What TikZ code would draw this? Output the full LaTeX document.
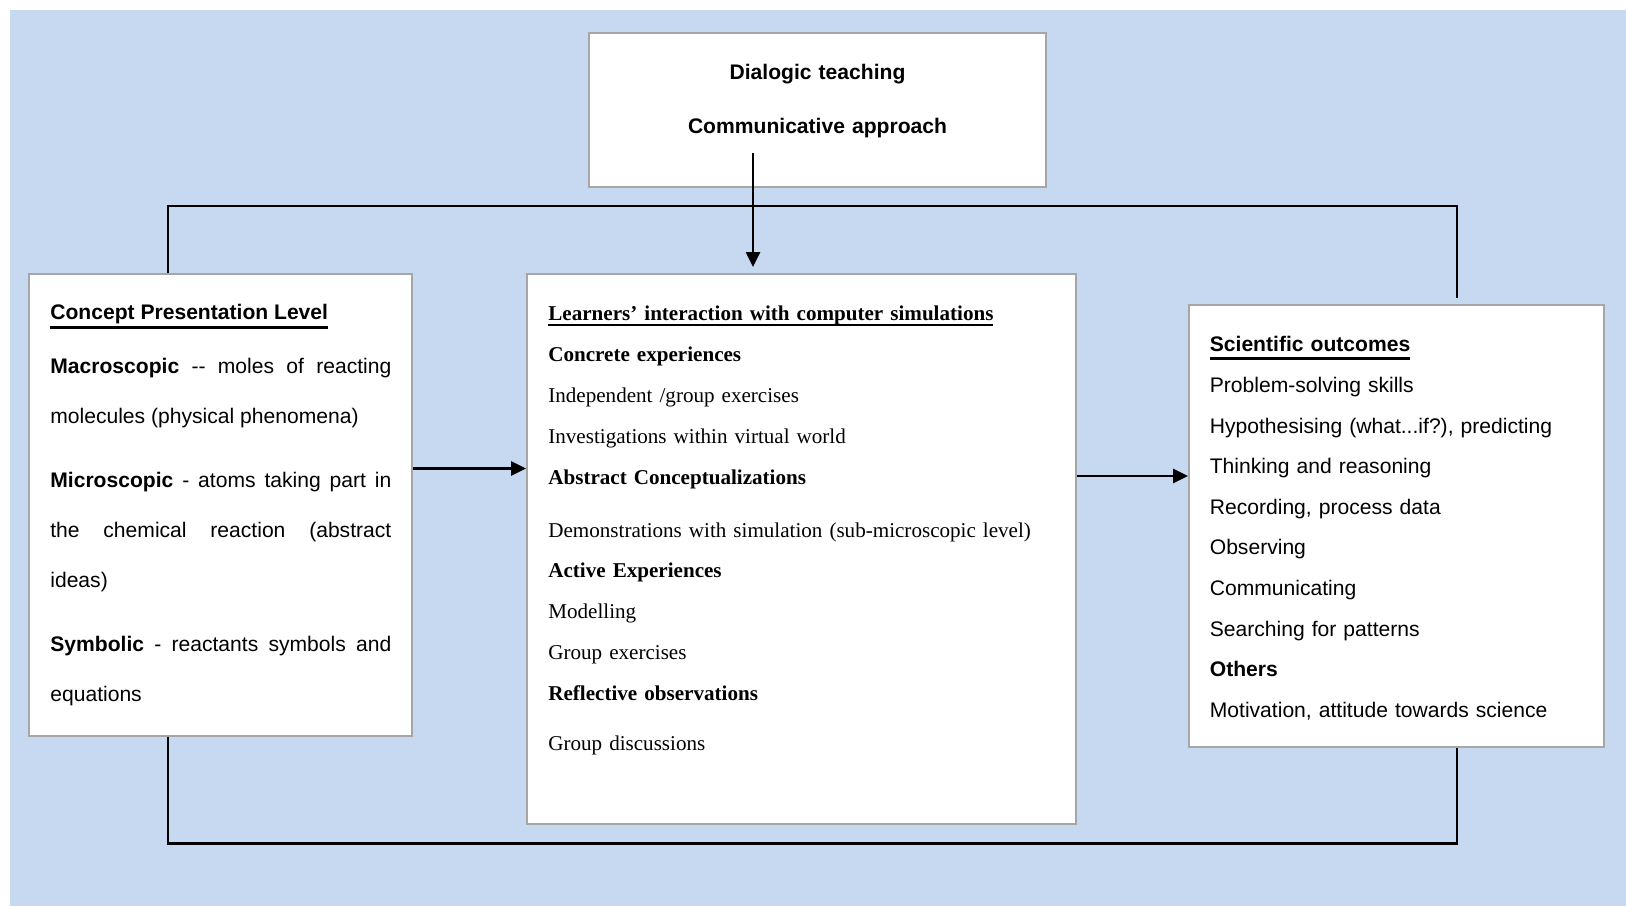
\documentclass[tikz,border=0pt]{standalone}
\usepackage{fontspec}
\setmainfont{Liberation Serif}
\newfontfamily\arialfont{Liberation Sans}
\usetikzlibrary{arrows.meta}
\definecolor{sheetblue}{RGB}{198,217,240}
\definecolor{boxgray}{RGB}{166,166,166}
\hbadness=10000
% underline with own depth and thickness
\newcommand{\ulbar}[3]{\setbox0\hbox{#3}\rlap{\rule[#1]{\wd0}{#2}}\box0}

\begin{document}
\begin{tikzpicture}[
		frame/.style={draw=boxgray, line width=1.1pt, fill=white, inner sep=0pt},
		txt/.style={anchor=base west, inner sep=0pt, align=left},
		link/.style={line width=1.2pt},
		flow/.style={line width=1.6pt, -{Triangle[length=8.5pt,width=8pt]}}]
		\useasboundingbox (0,0) rectangle (32.52,18.12);
		\fill [sheetblue] (0.2,0) rectangle (32.52,17.92);
		% boxes
		\node [frame, minimum width=9.14cm, minimum height=3.08cm] (dialog) at (16.35,15.92) {};
		\node [frame, minimum width=7.66cm, minimum height=9.24cm] (concept) at (4.41,8.02) {};
		\node [frame, minimum width=10.98cm, minimum height=11cm] (learn) at (16.03,7.14) {};
		\node [frame, minimum width=8.3cm, minimum height=8.84cm] (outcome) at (27.93,7.6) {};
		% texts
		\node [txt, anchor=base, text width=8cm, align=center, font=\arialfont\bfseries\fontsize{12}{30.2}\selectfont] (dialogtext) at (16.35,16.52) {Dialogic teaching\\Communicative approach};
		\node [txt, text width=6.82cm, align=justify, font=\arialfont\fontsize{12}{28.4}\selectfont] (concepttext) at (1.0,11.72) {\ulbar{-4.9pt}{1.4pt}{\textbf{Concept Presentation Level}}\\[2.3pt]
			\textbf{Macroscopic} -{}- moles of reacting\linebreak molecules (physical phenomena)\\[7.9pt]
			\textbf{Microscopic} - atoms taking part in\linebreak the chemical reaction (abstract\linebreak ideas)\\[8pt]
			\textbf{Symbolic} - reactants symbols and\linebreak equations};
		\node [txt, text width=10cm, font=\fontsize{12}{23.2}\selectfont] (learntext) at (10.96,11.70) {\ulbar{-2.7pt}{1.1pt}{\textbf{Learners' interaction with computer simulations}}\\
			\textbf{Concrete experiences}\\
			Independent /group exercises\\
			Investigations within virtual world\\
			\textbf{Abstract Conceptualizations}\\[7pt]
			Demonstrations with simulation (sub-microscopic level)\\
			\textbf{Active Experiences}\\
			Modelling\\
			Group exercises\\
			\textbf{Reflective observations}\\[5.5pt]
			Group discussions};
		\node [txt, text width=7.6cm, font=\arialfont\fontsize{12}{23.1}\selectfont] (outcometext) at (24.19,11.08) {\ulbar{-4.4pt}{1.4pt}{\textbf{Scientific outcomes}}\\
			Problem-solving skills\\
			Hypothesising (what...if?), predicting\\
			Thinking and reasoning\\
			Recording, process data\\
			Observing\\
			Communicating\\
			Searching for patterns\\
			\textbf{Others}\\
			Motivation, attitude towards science};
		% connectors
		\coordinate (looptop) at (16,14.0);
		\coordinate (loopbot) at (16,1.25);
		\coordinate (dialogfoot) at (15.06,15.06);
		\draw [flow, line width=1.2pt, shorten >=0.12cm] (dialogfoot) -- (dialogfoot |- learn.north);
		\draw [link] ([xshift=-1.05cm]concept.north) |- (looptop) -| ([xshift=1.21cm, yshift=0.12cm]outcome.north);
		\draw [link, line width=1.6pt] ([xshift=-1.05cm]concept.south) |- (loopbot) -| ([xshift=1.21cm]outcome.south);
		\draw [flow] ([yshift=0.73cm]concept.east) -- ([yshift=0.73cm]concept.east -| learn.west);
		\draw [flow] ([yshift=1.46cm]learn.east) -- ([yshift=1.46cm]learn.east -| outcome.west);
\end{tikzpicture}
\end{document}
